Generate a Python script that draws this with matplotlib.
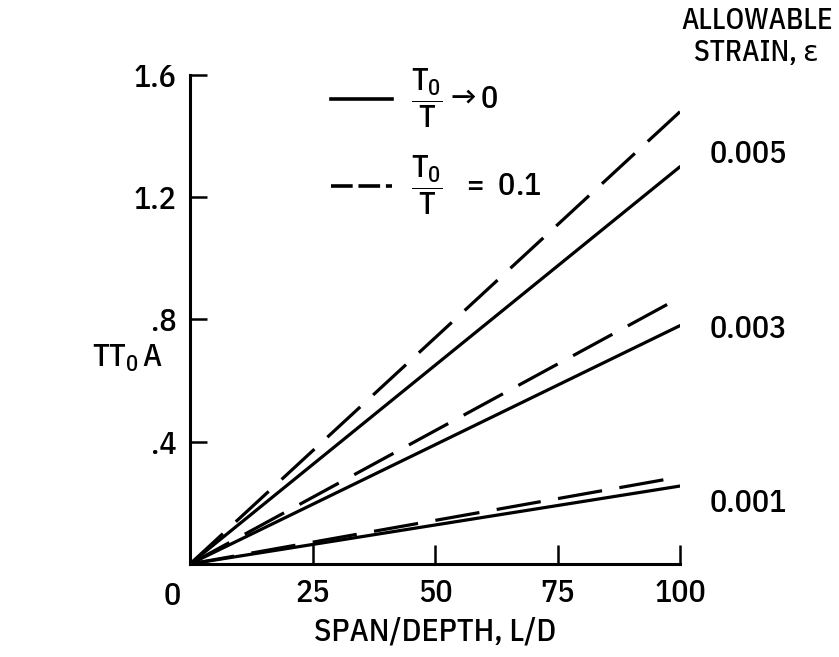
import matplotlib
matplotlib.use('Agg')
import matplotlib.pyplot as plt
from matplotlib.lines import Line2D

fam = 'IBM Plex Sans Condensed'
plt.rcParams['font.family'] = [fam, 'DejaVu Sans']
plt.rcParams['font.weight'] = 'medium'
plt.rcParams['mathtext.fontset'] = 'custom'
plt.rcParams['mathtext.rm'] = fam + ':medium'
plt.rcParams['mathtext.it'] = fam + ':medium'

# span/depth ratio and TT0A values at the ends of each straight line
span_depth = [0, 100]
strain_labels = ['0.005', '0.003', '0.001']
solid_vals = [[0, 1.30], [0, 0.78], [0, 0.255]]    # T0/T -> 0
dashed_vals = [[0, 1.48], [0, 0.872], [0, 0.285]]  # T0/T = 0.1
label_y = [1.34, 0.77, 0.20]

xticks = [25, 50, 75, 100]
yticks = [0.4, 0.8, 1.2, 1.6]
yticklabels = ['.4', '.8', '1.2', '1.6']

fs = 23

fig = plt.figure(figsize=(8.39, 6.57), dpi=100)
ax = fig.add_axes([0.2265, 0.1416, 0.584, 0.7442])

for i in range(3):
    ax.plot(span_depth, solid_vals[i], color='black', lw=2.3, solid_capstyle='round')
    ax.plot(span_depth, dashed_vals[i], color='black', lw=2.3, dashes=(14, 5.5))

ax.set_xlim(0, 100)
ax.set_ylim(0, 1.6)
for s in ['top', 'right']:
    ax.spines[s].set_visible(False)
for s in ['left', 'bottom']:
    ax.spines[s].set_linewidth(2.2)

ax.set_xticks(xticks)
ax.set_xticklabels([str(t) for t in xticks])
ax.set_yticks(yticks)
ax.set_yticklabels(yticklabels)
ax.tick_params(axis='both', direction='in', width=1.8, labelsize=fs)
ax.tick_params(axis='x', length=14, pad=10)
ax.tick_params(axis='y', length=12, pad=10)
ax.text(-3.7, -0.056, '0', fontsize=fs, ha='center', va='top')

ax.set_xlabel('SPAN/DEPTH, L/D', fontsize=fs, fontweight='medium', labelpad=6)
fig.text(0.152, 0.455, r'$\mathrm{TT}_{\mathrm{0}}\,\mathrm{A}$', fontsize=fs, ha='center', va='center')

for lab, y in zip(strain_labels, label_y):
    ax.text(114, y, lab, fontsize=fs, ha='center', va='center', clip_on=False)

fig.text(0.902, 0.968, 'ALLOWABLE', fontsize=21, ha='center', va='center')
fig.text(0.902, 0.919, 'STRAIN, ε', fontsize=21, ha='center', va='center')

h_solid = Line2D([], [], color='black', lw=2.6)
h_dash = Line2D([], [], color='black', lw=2.6, dashes=(6, 1.6))
ax.legend([h_solid, h_dash],
          [r'$\dfrac{\mathrm{T}_{\mathrm{0}}}{\mathrm{T}}\rightarrow\mathrm{0}$',
           r'$\dfrac{\mathrm{T}_{\mathrm{0}}}{\mathrm{T}}\ \ =\ \mathrm{0.1}$'],
          loc='upper left', bbox_to_anchor=(0.23, 1.075), frameon=False,
          fontsize=fs, handlelength=1.9, labelspacing=0.75, handletextpad=0.6)

fig.savefig('out.png', dpi=100)
